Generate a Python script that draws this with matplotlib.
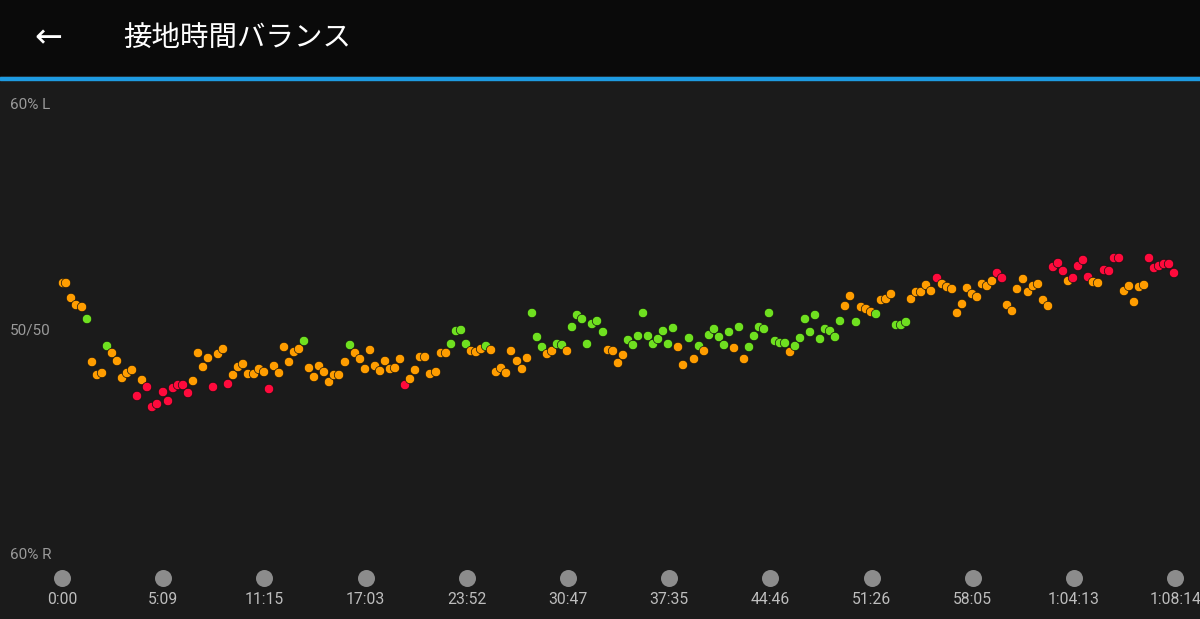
import matplotlib
matplotlib.use("Agg")
import matplotlib.pyplot as plt

plt.rcParams['font.family'] = ['Noto Sans CJK JP', 'DejaVu Sans']

tick_labels = ["0:00", "5:09", "11:15", "17:03", "23:52", "30:47", "37:35",
               "44:46", "51:26", "58:05", "1:04:13", "1:08:14"]

# readings: position along axis (tick i at 62+101.2*i) and balance level (50/50 at 330, 22.5 per %)
pos_px = [63,66,71,76,82,87,92,97,102,107,112,117,122,127,132,137,142,147,152,157,163,168,173,178,183,188,193,198,203,208,213,218,223,228,233,238,243,248,254,259,264,269,274,279,284,289,294,299,304,309,314,319,324,329,334,339,
          345,350,355,360,365,370,375,380,385,390,395,400,405,410,415,420,425,430,436,441,446,451,456,461,466,471,476,481,486,491,496,501,506,511,517,522,527,532,537,542,547,552,557,562,567,572,577,582,587,592,597,603,608,613,618,
          623,628,633,638,643,648,653,658,663,668,673,678,683,689,694,699,704,709,714,719,724,729,734,739,744,749,754,759,764,769,775,780,785,790,795,800,805,810,815,820,825,830,835,840,845,850,856,861,866,871,876,881,886,891,896,
          901,906,911,916,921,926,931,937,942,947,952,957,962,967,972,977,982,987,992,997,1002,1007,1012,1017,1023,1028,1033,1038,1043,1048,1053,1058,1063,1068,1073,1078,1083,1088,1093,1098,1104,1109,1114,1119,1124,1129,1134,1139,1144,1149,1154,1159,1164,1169,1174]
level_px = [283,283,298,305,307,319,362,375,373,346,353,361,378,373,370,396,380,387,407,404,392,401,388,385,385,393,381,353,367,358,387,354,349,384,375,367,364,374,374,369,372,389,366,373,347,362,352,349,341,368,377,366,372,382,375,375,
            362,345,353,359,369,350,366,371,361,369,368,359,385,379,370,357,357,374,372,353,353,344,331,330,344,351,352,349,346,350,372,368,373,351,361,369,358,313,337,347,354,351,344,345,351,327,315,319,344,324,321,332,350,351,363,
            355,340,345,336,313,336,344,339,331,344,328,347,365,338,359,346,351,335,329,337,345,332,348,327,359,347,336,327,329,313,341,343,343,352,346,338,319,332,315,339,329,331,337,321,306,296,322,307,309,312,314,300,299,294,325,
            325,322,299,292,292,285,291,278,284,287,289,313,304,288,294,297,284,286,281,273,278,305,311,289,279,292,286,284,300,306,267,263,271,281,278,266,260,277,282,283,270,271,258,258,291,286,302,287,285,258,268,266,264,264,273]

seg1 = "ooooo"+"g"+"ooo"+"g"+"ooooo"+"r"+"o"+"r"*9+"oooo"+"r"+"oo"+"r"+"o"*7+"r"+"o"*6+"g"+"o"*7
seg2 = "o"+"g"+"o"*10+"r"+"o"*8+"gggg"+"ooo"+"g"+"o"*8+"ggg"+"oo"+"gg"+"o"+"g"*7+"ooo"
seg3 = "o"+"g"*10+"oo"+"g"+"o"+"g"+"o"+"g"*5+"o"+"g"+"o"+"g"*8+"o"+"g"*10+"oo"+"g"+"ooo"+"g"+"ooo"+"g"
seg4 = "gg"+"ooooo"+"r"+"o"*11+"rr"+"o"*9+"rrr"+"o"+"rrrr"+"oo"+"rrrr"+"ooooo"+"rrrrrr"
zone = list(seg1 + seg2 + seg3 + seg4)

colors = {"o": "#ff9d00", "g": "#6fe020", "r": "#ff0a3c"}

W, H = 1200, 619
fig = plt.figure(figsize=(12, 6.19), dpi=100)
fig.patch.set_facecolor("#1b1b1b")

bar = fig.add_axes([0, 1 - 76 / H, 1, 76 / H])
bar.set_facecolor("#0a0a0a")
bar.set_xticks([]); bar.set_yticks([])
for s in bar.spines.values():
    s.set_visible(False)
fig.add_artist(plt.Rectangle((0, 1 - 80 / H), 1, 3.5 / H, transform=fig.transFigure,
                             color="#1e9be2", zorder=5))
fig.text(48 / W, 1 - 38 / H, "←", color="white", fontsize=24, ha="center", va="center",
         family=["DejaVu Sans"])
fig.text(123 / W, 1 - 38 / H, "接地時間バランス", color="white", fontsize=20.5, ha="left", va="center")

ax = fig.add_axes([0, 0, 1, 1 - 80 / H])
ax.set_facecolor("#1b1b1b")
for s in ax.spines.values():
    s.set_visible(False)
ax.set_xticks([]); ax.set_yticks([])
x0, dx = 62, 101.2
ax.set_xlim(-x0 / dx, (W - x0) / dx)
ytop = 50 + (330 - 80) / 22.5
ybot = 50 - (619 - 330) / 22.5
ax.set_ylim(ybot, ytop)

xs = [(p - x0) / dx for p in pos_px]
ys = [50 + (330 - p) / 22.5 for p in level_px]
ax.scatter(xs, ys, s=46, c=[colors[z] for z in zone], edgecolors="#111111", linewidths=0.5, zorder=3)

for lab, v in [("60% L", 60), ("50/50", 50), ("60% R", 40)]:
    ax.text(10 / dx - x0 / dx, v, lab, color="#9a9a9a", fontsize=11, ha="left", va="center",
            family=["Roboto", "DejaVu Sans"])

yt = 50 - (578 - 330) / 22.5
yl = 50 - (600 - 330) / 22.5
for i, lab in enumerate(tick_labels):
    ax.scatter([i], [yt], s=150, color="#8c8c8c", zorder=3, linewidths=0)
    ax.text(i, yl, lab, color="#bdbdbd", fontsize=11.3, ha="center", va="center",
            family=["Roboto", "DejaVu Sans"])

fig.savefig("out.png", dpi=100, facecolor=fig.get_facecolor())
